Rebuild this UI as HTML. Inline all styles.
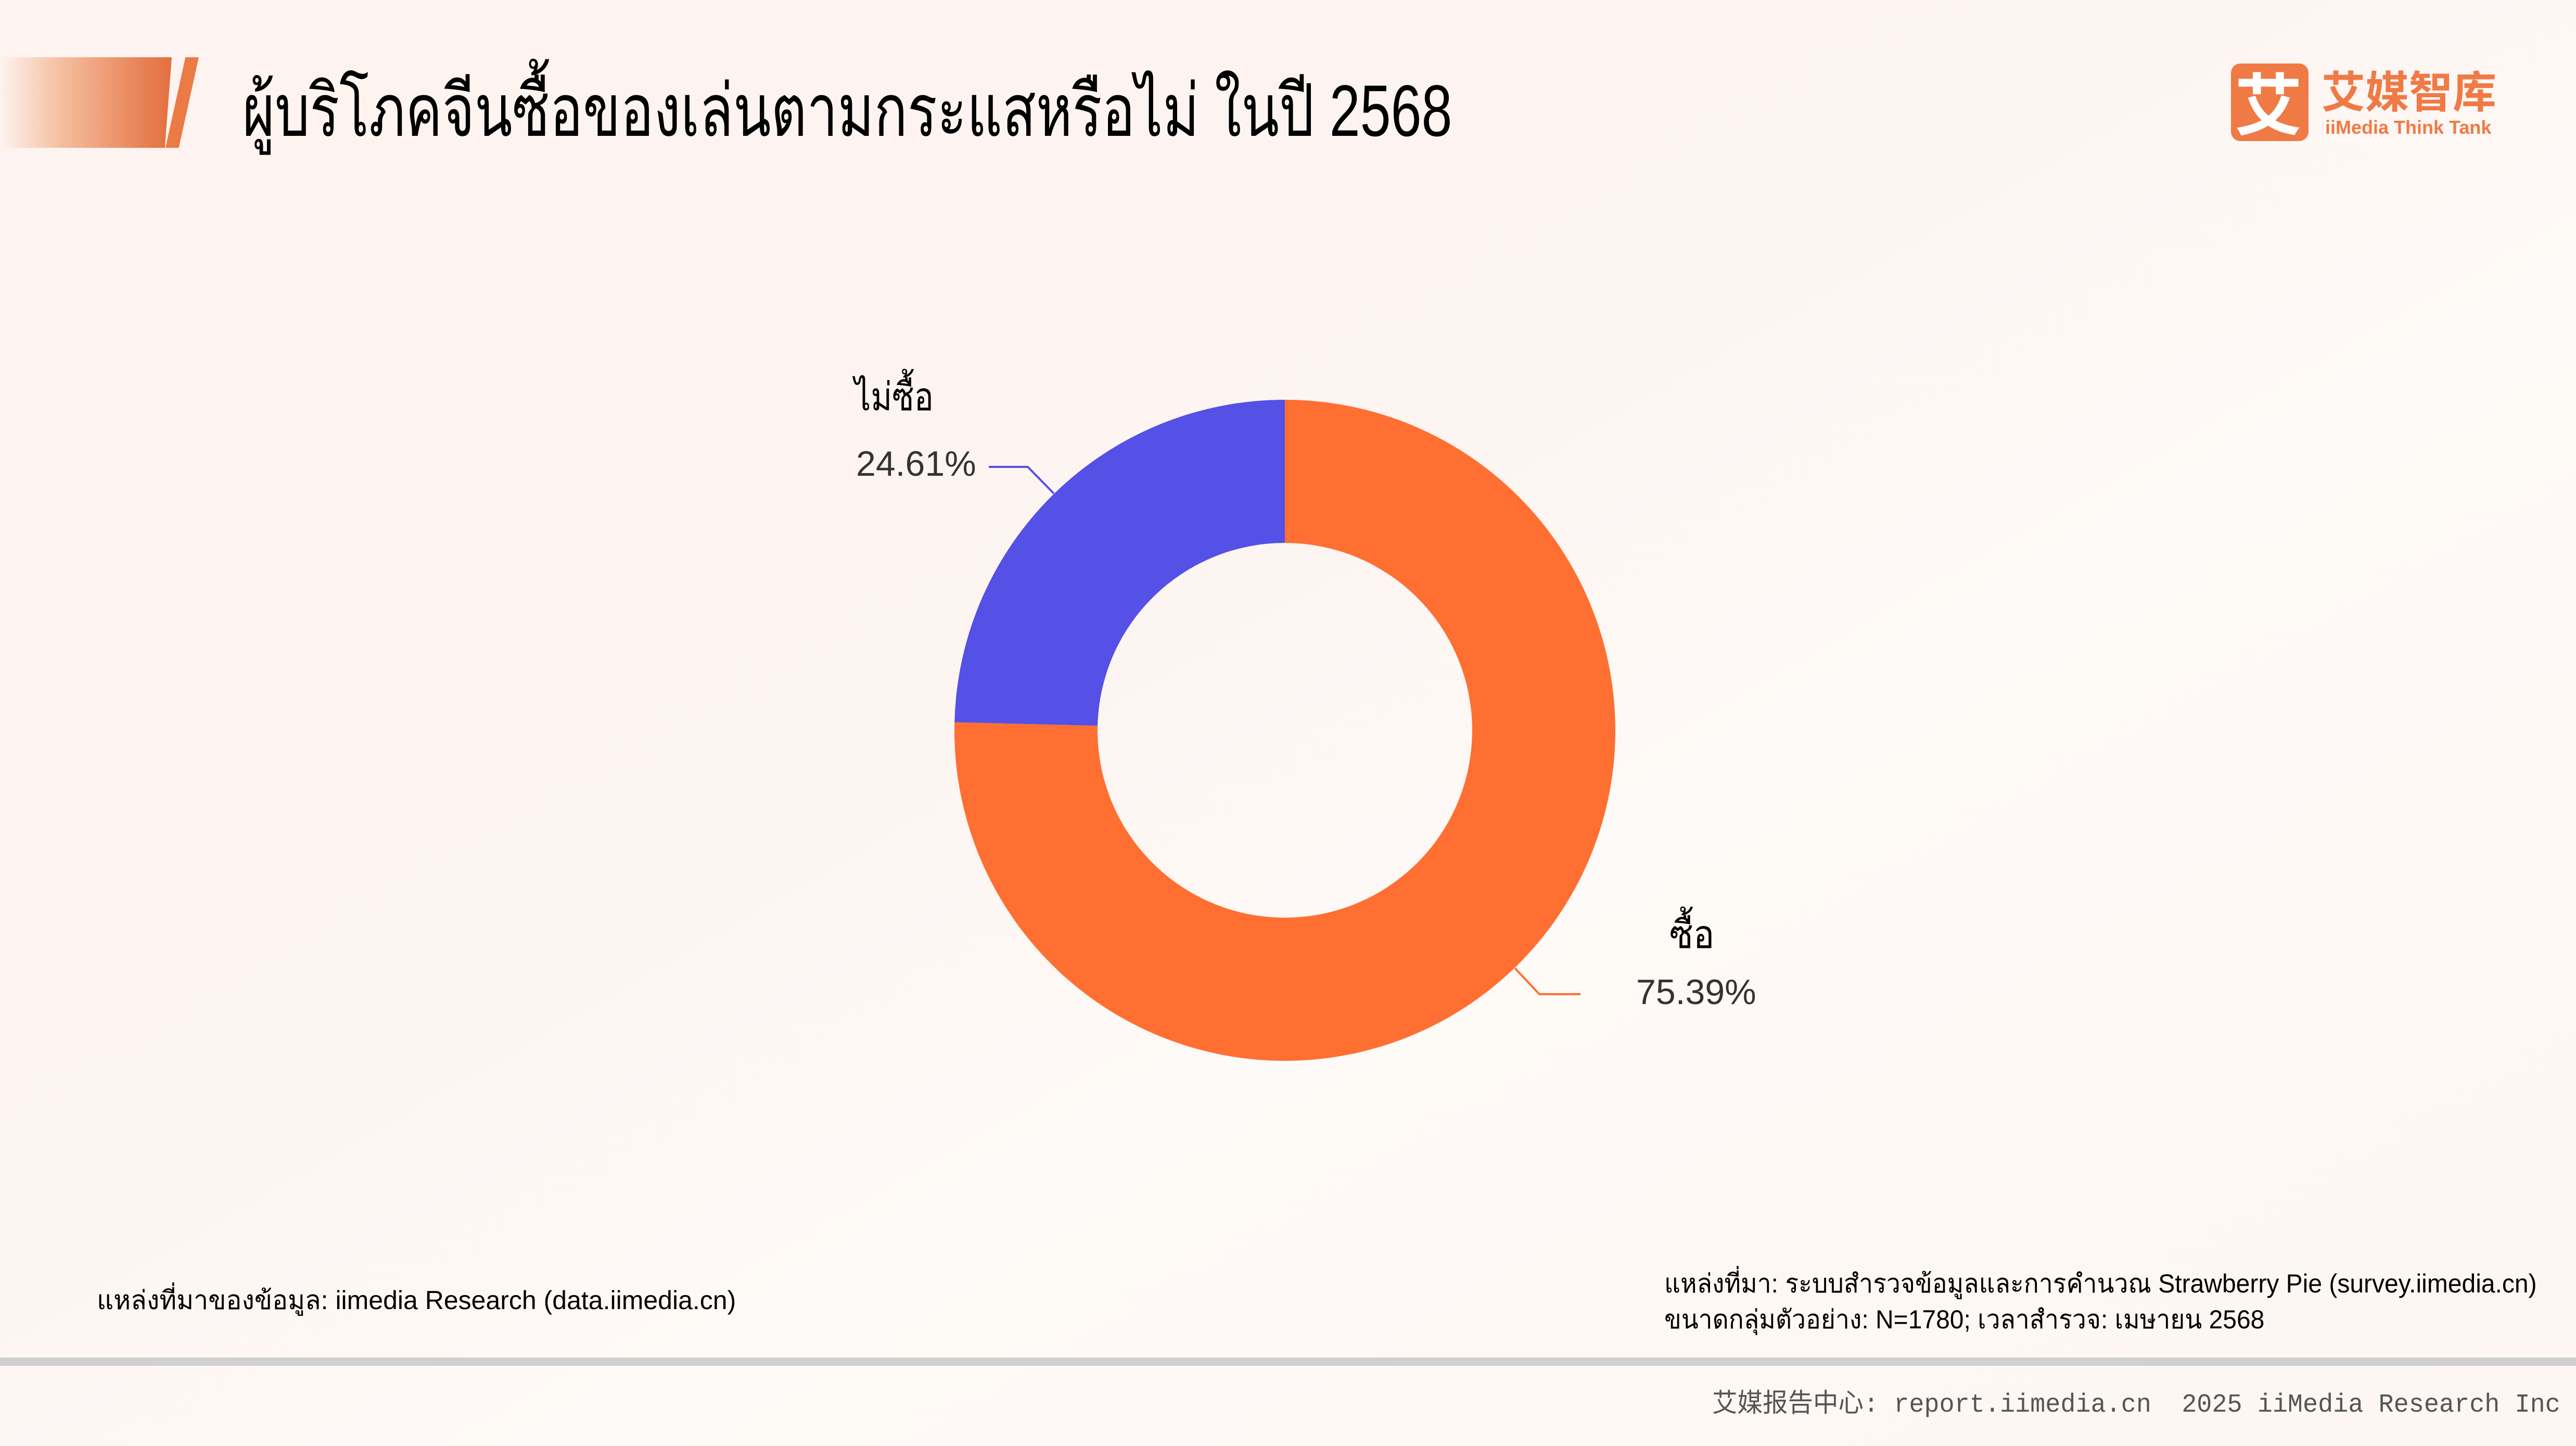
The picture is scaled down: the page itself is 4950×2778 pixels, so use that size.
<!DOCTYPE html>
<html><head><meta charset="utf-8"><style>
html,body{margin:0;padding:0}
body{width:4950px;height:2778px;position:relative;overflow:hidden;
background:linear-gradient(150deg,#fdf3f0 0%,#fdf5f2 45%,#fefaf7 60%,#fdf6f2 100%);
font-family:"Liberation Sans","DejaVu Sans",sans-serif;color:#111}
.t{position:absolute;white-space:nowrap;transform-origin:0 0}
</style></head><body>
<div style="position:absolute;left:0;top:110px;width:330px;height:174px;background:linear-gradient(90deg,rgba(253,243,240,0) 0%,#f5c0a0 35%,#e9855a 80%,#e36f3f 100%);clip-path:polygon(0 0,100% 0,96% 100%,0 100%)"></div>
<div style="position:absolute;left:318px;top:110px;width:64px;height:174px;background:#ec7a45;clip-path:polygon(60% 0,100% 0,40% 100%,0 100%)"></div>
<div class="t" style="left:466px;top:118px;font-size:140px;line-height:190px;color:#000;transform:scaleX(0.757)">ผู้บริโภคจีนซื้อของเล่นตามกระแสหรือไม่ ในปี 2568</div>

<div style="position:absolute;left:4287px;top:122px;width:149px;height:149px;background:#f07a45;border-radius:18px"></div>
<div class="t" style="left:4294px;top:118px;font-size:130px;line-height:150px;color:#fff;font-family:'Noto Sans CJK SC',sans-serif;font-weight:bold">艾</div>
<div class="t" style="left:4461px;top:122px;font-size:84px;line-height:100px;color:#f07a45;font-family:'Noto Sans CJK SC',sans-serif;font-weight:bold">艾媒智库</div>
<div class="t" style="left:4468px;top:222px;font-size:36px;line-height:46px;color:#f07a45;font-weight:bold">iiMedia Think Tank</div>

<svg style="position:absolute;left:0;top:0" width="4950" height="2778">
<path d="M2469,768 A635,635 0 1 1 1834.2,1387.5 L2109.1,1394.2 A360,360 0 1 0 2469,1043 Z" fill="#ff6f31"/>
<path d="M2469,768 A635,635 0 0 0 1834.2,1387.5 L2109.1,1394.2 A360,360 0 0 1 2469,1043 Z" fill="#5550e6"/>
<polyline points="1900,897 1975,897 2025,948" fill="none" stroke="#5550e6" stroke-width="4"/>
<polyline points="3037,1910 2958,1910 2911,1860" fill="none" stroke="#ff6f31" stroke-width="4"/>
<rect x="0" y="2608" width="4950" height="16" fill="#d0d0d0"/>
</svg>

<div class="t" style="left:1642px;top:712px;font-size:75px;line-height:100px;color:#000;transform:scaleX(0.83)">ไม่ซื้อ</div>
<div class="t" style="left:1645px;top:849px;font-size:68px;line-height:84px;color:#333">24.61%</div>
<div class="t" style="left:3208px;top:1745px;font-size:75px;line-height:100px;color:#000;transform:scaleX(0.9)">ซื้อ</div>
<div class="t" style="left:3144px;top:1864px;font-size:68px;line-height:84px;color:#333">75.39%</div>

<div class="t" style="left:186px;top:2466px;font-size:50px;line-height:64px;color:#000">แหล่งที่มาของข้อมูล: iimedia Research (data.iimedia.cn)</div>
<div class="t" style="left:3198px;top:2434px;font-size:50px;line-height:64px;color:#000;transform:scaleX(0.96)">แหล่งที่มา: ระบบสำรวจข้อมูลและการคำนวณ Strawberry Pie (survey.iimedia.cn)</div>
<div class="t" style="left:3198px;top:2503px;font-size:50px;line-height:64px;color:#000;transform:scaleX(0.96)">ขนาดกลุ่มตัวอย่าง: N=1780; เวลาสำรวจ: เมษายน 2568</div>
<div class="t" style="left:3290px;top:2670px;font-size:50px;line-height:60px;color:#555;font-family:'Liberation Mono','Noto Sans CJK SC',monospace;transform:scaleX(0.97)">艾媒报告中心: report.iimedia.cn &nbsp;2025 iiMedia Research Inc</div>
</body></html>
